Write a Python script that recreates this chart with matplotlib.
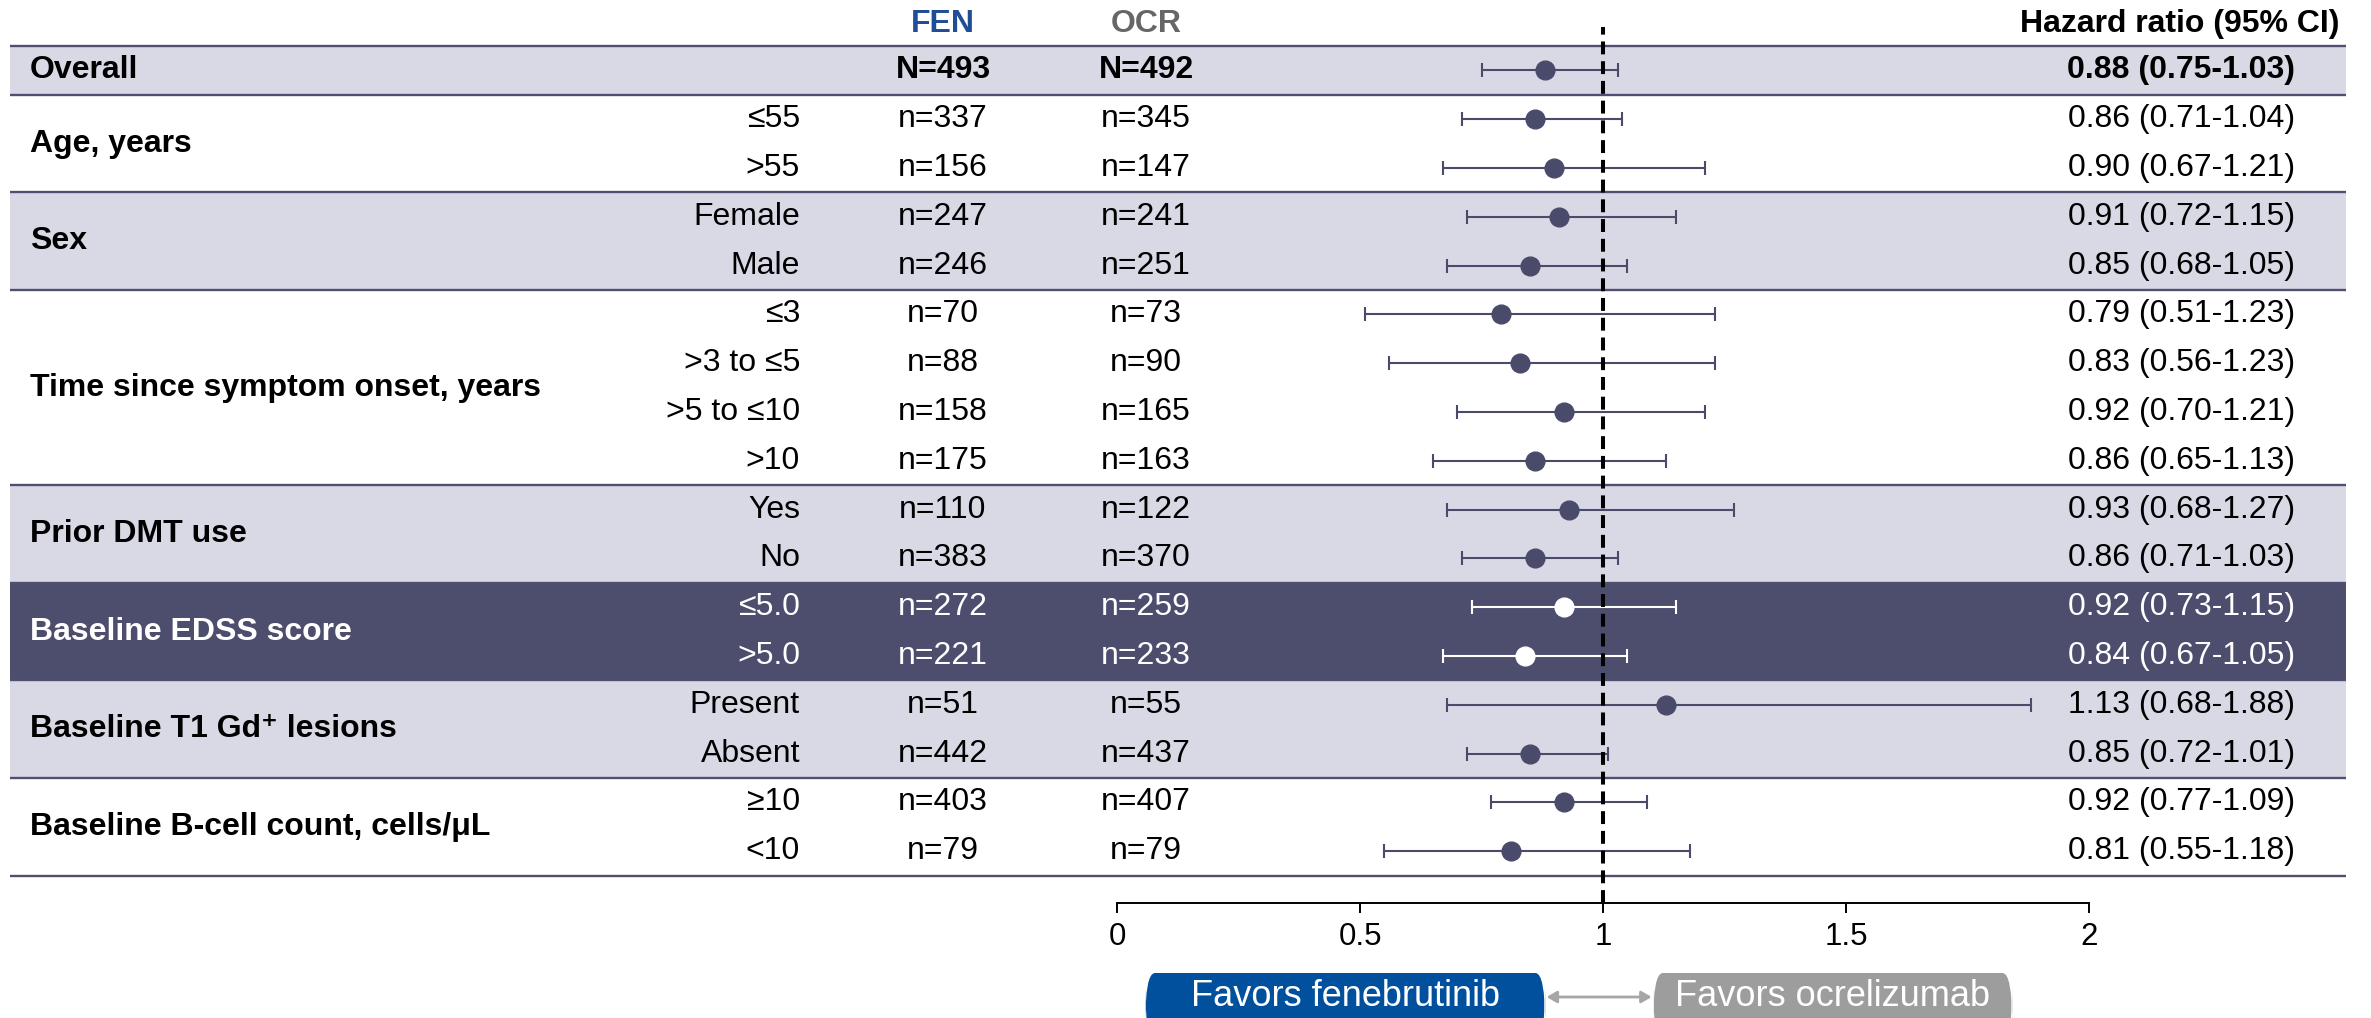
import numpy as np
import matplotlib
matplotlib.use("Agg")
import matplotlib.pyplot as plt
from matplotlib.patches import Rectangle, FancyBboxPatch, FancyArrowPatch
from matplotlib.transforms import blended_transform_factory

plt.rcParams['font.family'] = ['Liberation Sans', 'DejaVu Sans']

# subgroup table
groups = ["Overall", "Age, years", "Sex", "Time since symptom onset, years",
          "Prior DMT use", "Baseline EDSS score", "Baseline T1 Gd\u207a lesions",
          "Baseline B-cell count, cells/\u03bcL"]
group_sizes = [1, 2, 2, 4, 2, 2, 2, 2]
group_shade = ["light", "none", "light", "none", "light", "dark", "light", "none"]

subgroups = ["", "\u226455", ">55", "Female", "Male", "\u22643", ">3 to \u22645",
             ">5 to \u226410", ">10", "Yes", "No", "\u22645.0", ">5.0",
             "Present", "Absent", "\u226510", "<10"]
n_fen = [493, 337, 156, 247, 246, 70, 88, 158, 175, 110, 383, 272, 221, 51, 442, 403, 79]
n_ocr = [492, 345, 147, 241, 251, 73, 90, 165, 163, 122, 370, 259, 233, 55, 437, 407, 79]
hr = [0.88, 0.86, 0.90, 0.91, 0.85, 0.79, 0.83, 0.92, 0.86, 0.93, 0.86, 0.92, 0.84, 1.13, 0.85, 0.92, 0.81]
ci_lo = [0.75, 0.71, 0.67, 0.72, 0.68, 0.51, 0.56, 0.70, 0.65, 0.68, 0.71, 0.73, 0.67, 0.68, 0.72, 0.77, 0.55]
ci_hi = [1.03, 1.04, 1.21, 1.15, 1.05, 1.23, 1.23, 1.21, 1.13, 1.27, 1.03, 1.15, 1.05, 1.88, 1.01, 1.09, 1.18]
xticks = [0, 0.5, 1, 1.5, 2]
xtick_labels = ["0", "0.5", "1", "1.5", "2"]

W, H = 2371, 1018
LIGHT = "#d9d9e6"
DARK = "#4d4d6e"
LINE = "#4f4f72"
MARK = "#4a4a6b"
BLUE = "#00509e"
GREY = "#9d9d9d"
FS = 23

fig = plt.figure(figsize=(W / 100, H / 100), dpi=100)
# forest axes: x from 0 to 2, one unit of y per row
ax = fig.add_axes([1117 / W, (H - 903) / H, 972 / W, (903 - 27) / H])
ax.patch.set_visible(False)
n_rows = len(hr)
ys = -np.arange(n_rows)
ax.set_xlim(0, 2)
ax.set_ylim(-n_rows + 1 - 1.061, 0.889)

tr = blended_transform_factory(fig.transFigure, ax.transData)
x_left, x_right = 10 / W, 2346 / W

# shaded bands and separator lines
start = 0
ax.plot([x_left, x_right], [0.5, 0.5], transform=tr, color=LINE, lw=1.7,
        clip_on=False, solid_capstyle="butt")
row_dark = np.zeros(n_rows, dtype=bool)
for g, size, shade in zip(groups, group_sizes, group_shade):
    top = 0.5 - start
    bot = top - size
    if shade != "none":
        ax.add_patch(Rectangle((x_left, bot), x_right - x_left, size, transform=tr,
                               facecolor=LIGHT if shade == "light" else DARK,
                               edgecolor="none", clip_on=False, zorder=0))
    ax.plot([x_left, x_right], [bot, bot], transform=tr, color=LINE, lw=1.7,
            clip_on=False, solid_capstyle="butt", zorder=1)
    dark = shade == "dark"
    row_dark[start:start + size] = dark
    gy = top - size / 2
    ax.text(30 / W, gy, g, transform=tr, fontsize=FS, fontweight="bold",
            color="white" if dark else "black", ha="left", va="center")
    start += size

# table columns
for i in range(n_rows):
    c = "white" if row_dark[i] else "black"
    bold = "bold" if i == 0 else "normal"
    pre = "N=" if i == 0 else "n="
    ax.text(800 / W, ys[i], subgroups[i], transform=tr, fontsize=FS, color=c,
            ha="right", va="center")
    ax.text(943 / W, ys[i], f"{pre}{n_fen[i]}", transform=tr, fontsize=FS, color=c,
            ha="center", va="center", fontweight=bold)
    ax.text(1146 / W, ys[i], f"{pre}{n_ocr[i]}", transform=tr, fontsize=FS, color=c,
            ha="center", va="center", fontweight=bold)
    ax.text(2295 / W, ys[i], f"{hr[i]:.2f} ({ci_lo[i]:.2f}-{ci_hi[i]:.2f})", transform=tr,
            fontsize=FS, color=c, ha="right", va="center", fontweight=bold)

# column headers
ax.text(943 / W, 0.95, "FEN", transform=tr, fontsize=FS, fontweight="bold",
        color="#1f4e96", ha="center", va="center")
ax.text(1146 / W, 0.95, "OCR", transform=tr, fontsize=FS, fontweight="bold",
        color="#666666", ha="center", va="center")
ax.text(2340 / W, 0.95, "Hazard ratio (95% CI)", transform=tr, fontsize=FS,
        fontweight="bold", color="black", ha="right", va="center")

# point estimates with 95% CI
hr_a, lo_a, hi_a = np.array(hr), np.array(ci_lo), np.array(ci_hi)
for mask, col in [(~row_dark, MARK), (row_dark, "white")]:
    ax.errorbar(hr_a[mask], ys[mask],
                xerr=[hr_a[mask] - lo_a[mask], hi_a[mask] - hr_a[mask]],
                fmt="o", color=col, ecolor=col, elinewidth=1.5, capsize=4.7,
                capthick=1.5, markersize=13.5, zorder=3)

ax.axvline(1, color="black", lw=2.9, linestyle=(0, (3.2, 1.7)), zorder=4)

# x axis
for s in ["top", "right", "left"]:
    ax.spines[s].set_visible(False)
ax.spines["bottom"].set_linewidth(1.4)
ax.set_yticks([])
ax.set_xticks(xticks)
ax.set_xticklabels(xtick_labels)
ax.tick_params(axis="x", length=7, width=1.4, labelsize=22.5, pad=7)

# favors boxes
trb = blended_transform_factory(ax.transData, fig.transFigure)
box_top = (H - 973) / H
box_bot = -0.02
for x0, x1, col, label in [(0.058, 0.881, BLUE, "Favors fenebrutinib"),
                           (1.103, 1.842, GREY, "Favors ocrelizumab")]:
    ax.add_patch(FancyBboxPatch((x0, box_bot), x1 - x0, box_top - box_bot,
                                boxstyle="round,pad=0,rounding_size=0.02",
                                mutation_aspect=2.5, transform=trb,
                                facecolor=col, edgecolor="none", clip_on=False))
    ax.text((x0 + x1) / 2, (H - 996) / H, label, transform=trb, fontsize=26,
            color="white", ha="center", va="center")
ax.add_patch(FancyArrowPatch((0.884, (H - 997) / H), (1.100, (H - 997) / H),
                             transform=trb, arrowstyle="<|-|>,head_length=6,head_width=3.5",
                             color="#a6a6a6", lw=2, clip_on=False,
                             shrinkA=0, shrinkB=0))

fig.savefig("out.png", dpi=100)
